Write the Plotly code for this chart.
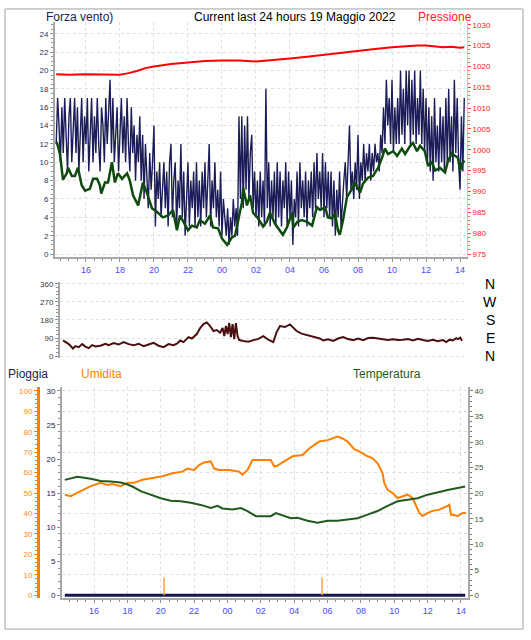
import plotly.graph_objects as go

# ---------------- DATA ----------------
hour_ticks = [16, 18, 20, 22, 24, 26, 28, 30, 32, 34, 36, 38]
hour_labels = ["16", "18", "20", "22", "00", "02", "04", "06", "08", "10", "12", "14"]

# wind speed, 5-minute samples starting 14:15
wind_start = 14.25
wind_step_min = 5
wind_speed = [
    12, 17, 14, 10, 16, 11, 17, 13, 9, 15, 17, 10,
    14, 17, 11, 16, 9, 13, 17, 10, 15, 12, 17, 9,
    13, 17, 10, 15, 11, 17, 12, 9, 16, 14, 10, 17,
    12, 15, 19, 11, 17, 10, 14, 16, 9, 13, 17, 11,
    15, 10, 17, 12, 9, 16, 11, 14, 8, 13, 10, 15,
    8, 13, 6, 12, 9, 5, 11, 7, 10, 14, 3, 9,
    6, 10, 4, 8, 10, 5, 9, 3, 10, 12, 4, 8,
    10, 3, 8, 5, 12, 4, 9, 2, 7, 10, 3, 8,
    5, 9, 3, 10, 4, 8, 3, 9, 5, 10, 4, 9,
    12, 3, 8, 5, 10, 4, 7, 3, 9, 2, 6, 4,
    2, 5, 1, 4, 2, 6, 3, 5, 2, 15, 6, 15,
    5, 14, 7, 15, 6, 11, 13, 5, 9, 4, 8, 3,
    9, 4, 8, 3, 18, 5, 10, 3, 8, 4, 9, 3,
    10, 4, 9, 3, 8, 5, 10, 3, 9, 4, 8, 1,
    6, 4, 9, 3, 10, 5, 8, 4, 9, 3, 8, 5,
    9, 4, 10, 5, 11, 6, 9, 5, 11, 4, 10, 5,
    9, 4, 9, 3, 8, 2, 7, 4, 9, 3, 6, 8,
    10, 6, 10, 14, 7, 9, 6, 10, 7, 13, 6, 10,
    8, 12, 8, 11, 9, 12, 8, 11, 9, 12, 10, 11,
    9, 13, 11, 16, 12, 19, 14, 17, 12, 19, 11, 16,
    12, 17, 12, 20, 13, 18, 12, 20, 14, 20, 12, 19,
    13, 20, 12, 17, 13, 20, 12, 18, 11, 17, 10, 16,
    9, 15, 8, 17, 10, 14, 9, 16, 10, 15, 9, 17,
    10, 18, 10, 15, 9, 19, 11, 17, 10, 7, 15, 9,
    17,
]

avg_hours = [14.25, 14.30, 14.47, 14.65, 14.87, 14.95, 15.17, 15.35, 15.53, 15.75, 15.95,
             16.23, 16.42, 16.65, 16.82, 16.90, 17.12, 17.30, 17.53, 17.70, 17.88, 18.12,
             18.42, 18.58, 18.77, 19.07, 19.35, 19.58, 19.88, 20.17, 20.53, 20.83, 21.12,
             21.35, 21.53, 21.82, 22.00, 22.23, 22.52, 22.70, 23.00, 23.30, 23.47, 23.77,
             24.00, 24.30, 24.58, 24.77, 24.95, 25.17, 25.25, 25.47, 25.65, 25.83, 26.12,
             26.42, 26.63, 26.82, 27.12, 27.42, 27.58, 27.82, 28.12, 28.20, 28.42, 28.70,
             29.00, 29.30, 29.58, 29.77, 30.07, 30.23, 30.47, 30.65, 30.82, 30.93, 31.12,
             31.35, 31.65, 31.82, 32.12, 32.30, 32.58, 32.88, 33.18, 33.42, 33.58, 33.77,
             34.07, 34.30, 34.58, 34.77, 35.07, 35.23, 35.47, 35.65, 35.93, 36.12, 36.35,
             36.53, 36.82, 37.12, 37.30, 37.53, 37.70, 37.88, 38.00, 38.12, 38.25]
avg_speed = [12.2, 12.1, 10.9, 8.1, 8.8, 9.4, 8.5, 8.5, 9.4, 7.5, 6.9,
             7.1, 8.2, 8.2, 7.5, 6.6, 7.8, 7.8, 10.0, 7.8, 8.8, 8.2,
             8.8, 8.0, 6.4, 5.3, 7.8, 6.7, 5.0, 4.6, 4.0, 4.2, 4.8,
             2.6, 4.2, 3.1, 2.6, 3.1, 2.9, 3.7, 3.3, 4.2, 2.9, 2.8,
             1.7, 1.0, 1.8, 2.0, 3.7, 5.6, 7.2, 5.3, 6.4, 4.5, 3.9,
             3.0, 3.5, 4.5, 3.3, 2.6, 2.1, 2.9, 4.5, 2.9, 3.5, 3.7,
             3.5, 3.1, 5.1, 4.8, 5.1, 4.0, 3.9, 4.4, 2.6, 2.1, 3.7,
             6.2, 7.1, 7.8, 6.7, 7.7, 8.3, 8.5, 9.4, 10.5, 11.5, 10.9,
             11.2, 10.7, 11.5, 10.9, 11.8, 12.1, 11.2, 11.8, 11.2, 9.6, 10.0,
             9.1, 9.4, 8.9, 10.2, 11.0, 10.7, 10.5, 9.1, 9.8, 10.2]

press_hours = [14.25, 15.0, 16.0, 17.0, 17.5, 18.0, 18.5, 19.0, 19.5, 20.0, 21.0, 22.0,
               23.0, 24.0, 25.0, 26.0, 27.0, 28.0, 29.0, 30.0, 31.0, 32.0, 33.0, 34.0,
               35.0, 35.5, 36.0, 36.5, 37.0, 37.5, 38.0, 38.25]
pressure = [1018.1, 1018.0, 1018.1, 1018.0, 1017.9, 1018.0, 1018.4, 1018.9, 1019.6, 1020.0,
            1020.6, 1021.0, 1021.3, 1021.4, 1021.4, 1021.2, 1021.5, 1021.9, 1022.3, 1022.8,
            1023.3, 1023.8, 1024.2, 1024.6, 1024.9, 1025.0, 1025.0, 1024.8, 1024.6, 1024.7,
            1024.5, 1024.6]

dir_hours = [14.25, 14.4, 14.6, 14.85, 15.0, 15.2, 15.4, 15.6, 15.8, 16.0, 16.2, 16.5, 16.8,
             17.0, 17.3, 17.6, 17.9, 18.2, 18.5, 18.8, 19.1, 19.4, 19.7, 20.0, 20.3, 20.6,
             20.9, 21.1, 21.3, 21.5, 21.8, 22.0, 22.3, 22.5, 22.7, 22.9, 23.1, 23.3, 23.5,
             23.7, 23.85, 23.95, 24.05, 24.15, 24.25, 24.35, 24.45, 24.55, 24.65, 24.75,
             24.85, 25.1, 25.4, 25.7, 26.0, 26.3, 26.6, 26.9, 27.1, 27.3, 27.6, 27.9, 28.1,
             28.3, 28.6, 28.9, 29.1, 29.4, 29.7, 29.9, 30.2, 30.5, 30.8, 31.1, 31.4, 31.7,
             32.0, 32.3, 32.6, 32.9, 33.2, 33.5, 33.8, 34.1, 34.4, 34.7, 35.0, 35.3, 35.6,
             35.9, 36.2, 36.5, 36.8, 37.1, 37.3, 37.5, 37.7, 37.9, 38.0, 38.15, 38.25]
direction = [79, 70, 60, 38, 50, 45, 60, 48, 40, 55, 48, 52, 62,
             55, 65, 58, 70, 60, 54, 62, 50, 58, 66, 52, 45, 60,
             55, 62, 78, 70, 95, 88, 110, 140, 160, 168, 150, 125, 130,
             117, 140, 100, 150, 110, 165, 95, 160, 85, 165, 100,
             80, 76, 72, 80, 86, 100, 82, 70, 120, 150, 145, 158, 140,
             125, 112, 105, 100, 95, 88, 78, 84, 76, 88, 95, 85, 80,
             88, 80, 90, 92, 88, 84, 80, 84, 80, 82, 85, 78, 86,
             80, 76, 82, 75, 80, 70, 82, 78, 90, 85, 92, 76]
compass_labels = ["N", "E", "S", "W", "N"]
compass_deg = [0, 90, 180, 270, 360]

hum_hours = [14.25, 14.6, 15.2, 15.8, 16.4, 16.8, 17.1, 17.6, 18.0, 18.4, 18.9, 19.5, 20.1,
             20.7, 21.3, 21.6, 22.0, 22.3, 22.6, 23.0, 23.2, 23.5, 24.1, 24.7, 24.9, 25.2,
             25.5, 26.1, 26.6, 26.8, 27.0, 27.3, 27.9, 28.5, 28.9, 29.5, 30.0, 30.6, 30.9,
             31.2, 31.6, 31.9, 32.4, 32.7, 33.0, 33.3, 33.4, 33.6, 33.9, 34.2, 34.5, 34.8,
             35.1, 35.3, 35.5, 35.7, 36.0, 36.3, 36.7, 37.2, 37.3, 37.4, 37.8, 38.1, 38.3]
humidity = [49.2, 48.5, 51.0, 53.4, 55.0, 54.0, 54.4, 53.4, 55.0, 55.0, 56.5, 57.3, 58.2,
            59.7, 60.5, 62.0, 61.3, 63.7, 65.0, 65.5, 62.0, 61.3, 61.3, 60.5, 59.0, 61.3,
            66.2, 66.2, 66.2, 63.0, 63.5, 65.0, 68.0, 68.6, 71.8, 75.2, 75.9, 77.6, 76.7,
            75.2, 71.5, 70.4, 68.0, 67.0, 64.6, 59.7, 55.0, 51.6, 50.0, 47.6, 48.5, 49.2,
            47.6, 44.3, 40.3, 38.8, 40.3, 41.3, 41.9, 43.7, 44.3, 39.5, 38.8, 40.3, 40.3]

temp_hours = [14.25, 14.7, 15.0, 15.8, 16.4, 17.0, 17.6, 18.0, 18.3, 18.8, 19.4, 20.0, 20.6,
              21.2, 21.8, 22.4, 23.0, 23.4, 23.7, 24.3, 24.8, 25.2, 25.7, 26.0, 26.6, 26.9,
              27.2, 27.8, 28.2, 28.8, 29.4, 30.0, 30.6, 31.2, 31.8, 32.4, 33.0, 33.6, 34.2,
              34.8, 35.4, 36.0, 36.6, 37.2, 37.8, 38.25]
temperature = [22.6, 23.0, 23.2, 22.8, 22.4, 22.3, 22.1, 21.7, 21.3, 20.4, 19.7, 19.0, 18.5,
               18.4, 18.1, 17.7, 17.1, 17.5, 17.0, 16.8, 17.1, 16.5, 15.5, 15.5, 15.5, 16.1,
               15.8, 15.1, 15.2, 14.6, 14.2, 14.6, 14.6, 14.8, 15.1, 15.8, 16.5, 17.5, 18.4,
               18.7, 19.0, 19.7, 20.2, 20.6, 21.0, 21.3]

rain_hours = [14.25, 38.25]
rain = [0, 0]
rate_hours = [20.2, 29.67]
rain_rate = [2.6, 2.6]

# ---------------- FIGURE ----------------
W, H = 531, 640
def px_x(p):
    return p / W
def px_y(p):
    return 1 - p / H

wind_hours = [wind_start + i * wind_step_min / 60 for i in range(len(wind_speed))]

rate_x, rate_y = [], []
for t, v in zip(rate_hours, rain_rate):
    rate_x += [t, t, None]
    rate_y += [0, v, None]

FONT = "Liberation Sans, Arial, sans-serif"
GRID = "#e0e0e0"
AXC = "#a8a8a8"
XTICK = dict(size=9, color="#4a4aff", family=FONT)

fig = go.Figure()
fig.add_trace(go.Scatter(x=wind_hours, y=wind_speed, mode="lines", xaxis="x", yaxis="y",
                         line=dict(color="#1c1c58", width=1.4)))
fig.add_trace(go.Scatter(x=avg_hours, y=avg_speed, mode="lines", xaxis="x", yaxis="y",
                         line=dict(color="#0f4a0f", width=2.5)))
fig.add_trace(go.Scatter(x=press_hours, y=pressure, mode="lines", xaxis="x", yaxis="y2",
                         line=dict(color="#ff0000", width=2)))
fig.add_trace(go.Scatter(x=dir_hours, y=direction, mode="lines", xaxis="x2", yaxis="y3",
                         line=dict(color="#4a1010", width=2)))
fig.add_trace(go.Scatter(x=rain_hours, y=rain, mode="lines", xaxis="x3", yaxis="y4",
                         line=dict(color="#151550", width=3)))
fig.add_trace(go.Scatter(x=rate_x, y=rate_y, mode="lines", xaxis="x3", yaxis="y4",
                         line=dict(color="#ffa040", width=1.5)))
fig.add_trace(go.Scatter(x=temp_hours, y=temperature, mode="lines", xaxis="x3", yaxis="y6",
                         line=dict(color="#1f5a1f", width=2)))
fig.add_trace(go.Scatter(x=hum_hours, y=humidity, mode="lines", xaxis="x3", yaxis="y5",
                         line=dict(color="#ff8000", width=2)))

minor_x = dict(dtick=0.5, tick0=0, ticks="outside", ticklen=2, tickcolor="#909090", showgrid=False)

fig.update_layout(
    width=W, height=H, margin=dict(l=0, r=0, t=0, b=0),
    paper_bgcolor="white", plot_bgcolor="white", showlegend=False,
    font=dict(family=FONT),
    xaxis=dict(domain=[px_x(55), px_x(467)], range=[14.18, 38.41], anchor="y",
               tickvals=hour_ticks, ticktext=hour_labels, tickfont=XTICK,
               showgrid=True, gridcolor=GRID, griddash="dot", zeroline=False,
               showline=True, linecolor=AXC, linewidth=2, ticks="outside", ticklen=3,
               tickcolor="#909090", minor=minor_x),
    yaxis=dict(domain=[px_y(257), px_y(20)], range=[-0.32, 25.3], anchor="x",
               dtick=2, tick0=0, tickfont=dict(size=8, color="#303060"),
               showgrid=True, gridcolor=GRID, griddash="dot", zeroline=False,
               showline=True, linecolor=AXC, linewidth=2, ticks="outside", ticklen=3,
               tickcolor="#909090",
               minor=dict(dtick=0.5, ticks="outside", ticklen=2, tickcolor="#909090", showgrid=False)),
    yaxis2=dict(overlaying="y", side="right", anchor="x", range=[974.3, 1030.7], dtick=5,
                tickfont=dict(size=8, color="#ff2020"), showgrid=False, zeroline=False,
                showline=True, linecolor="#ffb0b0", linewidth=1, ticks="outside", ticklen=3,
                tickcolor="#ff4040",
                minor=dict(dtick=1, ticks="outside", ticklen=2, tickcolor="#ff6060")),
    xaxis2=dict(domain=[px_x(60), px_x(464)], range=[14.07, 38.37], anchor="y3",
                showticklabels=False, showgrid=False, zeroline=False, showline=False, ticks=""),
    yaxis3=dict(domain=[px_y(359), px_y(282)], range=[-10, 370], anchor="x2",
                tickvals=compass_deg, tickfont=dict(size=8, color="#404040"),
                showgrid=True, gridcolor=GRID, griddash="dot", zeroline=False,
                showline=True, linecolor=AXC, linewidth=2, ticks="outside", ticklen=3,
                tickcolor="#909090",
                minor=dict(dtick=18, ticks="outside", ticklen=2, tickcolor="#909090", showgrid=False)),
    xaxis3=dict(domain=[px_x(62), px_x(468)], range=[14.08, 38.42], anchor="y4",
                tickvals=hour_ticks, ticktext=hour_labels, tickfont=XTICK,
                showgrid=True, gridcolor=GRID, griddash="dot", zeroline=False,
                showline=True, linecolor=AXC, linewidth=2, ticks="outside", ticklen=3,
                tickcolor="#909090", minor=minor_x),
    yaxis4=dict(domain=[px_y(601), px_y(388)], range=[-0.44, 30.58], anchor="x3",
                dtick=5, tickfont=dict(size=8, color="#202050"), showgrid=False, zeroline=False,
                showline=True, linecolor=AXC, linewidth=2, ticks="outside", ticklen=3,
                tickcolor="#909090",
                minor=dict(dtick=1, ticks="outside", ticklen=2, tickcolor="#909090")),
    yaxis5=dict(overlaying="y4", anchor="free", position=px_x(38), side="left",
                range=[-1.46, 101.9], dtick=10, tickfont=dict(size=8, color="#ff8c1a"),
                showgrid=True, gridcolor=GRID, griddash="dot", zeroline=False,
                showline=True, linecolor="#ff8000", linewidth=3, ticks="outside", ticklen=3,
                tickcolor="#ff8000",
                minor=dict(dtick=2, ticks="outside", ticklen=2, tickcolor="#ff8000")),
    yaxis6=dict(overlaying="y4", side="right", anchor="x3", range=[-0.58, 40.78], dtick=5,
                tickfont=dict(size=8, color="#3a5a3a"), showgrid=False, zeroline=False,
                showline=True, linecolor=AXC, linewidth=2, ticks="outside", ticklen=3,
                tickcolor="#708070",
                minor=dict(dtick=1, ticks="outside", ticklen=2, tickcolor="#708070")),
)

fig.add_shape(type="rect", xref="paper", yref="paper", x0=px_x(5), x1=px_x(523),
              y0=px_y(632), y1=px_y(7), line=dict(color="#a0a0a0", width=1))

def label(text, x, y, color, size=12, anchor="left"):
    fig.add_annotation(text=text, xref="paper", yref="paper", x=px_x(x), y=px_y(y),
                       xanchor=anchor, yanchor="middle", showarrow=False,
                       font=dict(size=size, color=color, family=FONT))

label("Forza vento)", 44, 15, "#202060")
label("Current last 24 hours 19 Maggio 2022", 295, 15, "#000000", anchor="center")
label("Pressione", 416, 15, "#ff2020")
label("Pioggia", 6, 375, "#202050")
label("Umidita", 79, 375, "#ff8000")
label("Temperatura", 351, 375, "#1f5a1f")

for t, d in zip(compass_labels, compass_deg):
    fig.add_annotation(text=t, xref="paper", yref="y3", x=px_x(490), y=d,
                       xanchor="center", yanchor="middle", showarrow=False,
                       font=dict(size=14, color="#000000", family=FONT))

fig.write_html("out.html", config={"displayModeBar": False},
               post_script="document.body.style.margin='0';")
